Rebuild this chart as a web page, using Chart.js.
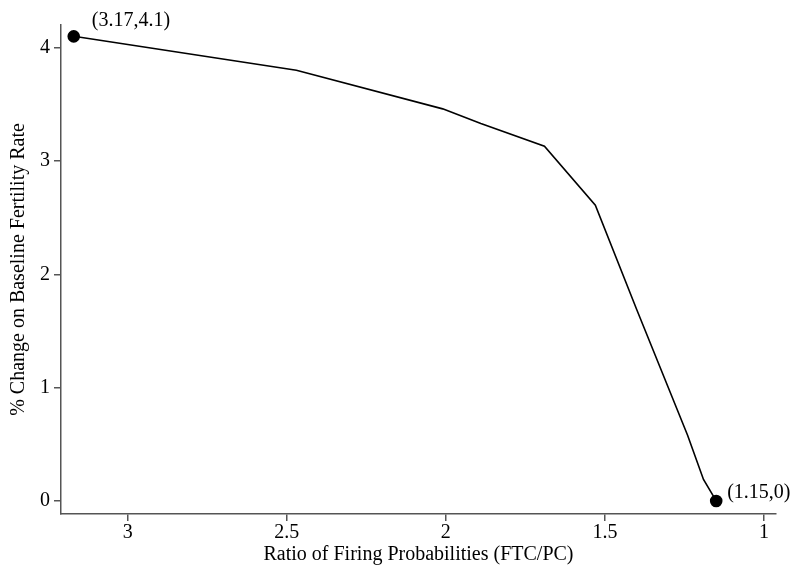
<!DOCTYPE html>
<html>
<head>
<meta charset="utf-8">
<script src="https://cdn.jsdelivr.net/npm/chart.js@4.4.0/dist/chart.umd.min.js"></script>
<style>
  html, body { margin: 0; padding: 0; background: #fff; }
  #wrap { width: 792px; height: 567px; }
</style>
</head>
<body>
<div id="wrap"><canvas id="myChart"></canvas></div>
<script>
"use strict";

// ratio of firing probabilities (FTC/PC) and % change on baseline fertility
const ratio = [3.17, 2.47, 2.01, 1.89, 1.69, 1.53, 1.40, 1.24, 1.19, 1.15];
const change = [4.1, 3.80, 3.46, 3.33, 3.13, 2.61, 1.69, 0.58, 0.19, 0];
const xTicks = [3, 2.5, 2, 1.5, 1];
const yTicks = [0, 1, 2, 3, 4];

const points = ratio.map((r, i) => ({ x: r, y: change[i] }));
const last = points.length - 1;
const serif = "'Liberation Serif', 'DejaVu Serif', serif";

// marker labels at both ends of the curve
const endLabels = {
    id: 'endLabels',
    afterDatasetsDraw(chart) {
        const ctx = chart.ctx;
        const meta = chart.getDatasetMeta(0);
        const spots = [
            { i: 0, dx: 18, dy: -16 },
            { i: last, dx: 11, dy: -8 }
        ];
        ctx.save();
        ctx.font = '20px ' + serif;
        ctx.fillStyle = '#000';
        ctx.textAlign = 'left';
        ctx.textBaseline = 'middle';
        spots.forEach(s => {
            const el = meta.data[s.i];
            ctx.fillText('(' + ratio[s.i] + ',' + change[s.i] + ')', el.x + s.dx, el.y + s.dy);
        });
        ctx.restore();
    }
};

var ctx = document.getElementById('myChart');
var chart = new Chart(ctx, {
    type: 'scatter',
    data: {
        datasets: [{
            data: points,
            showLine: true,
            borderColor: '#000',
            borderWidth: 1.6,
            backgroundColor: '#000',
            pointRadius: c => (c.dataIndex === 0 || c.dataIndex === last) ? 5.5 : 0,
            pointHoverRadius: 0,
            tension: 0
        }]
    },
    options: {
        responsive: true,
        maintainAspectRatio: false,
        animation: false,
        layout: { padding: { top: 25, right: 16, left: 0, bottom: 0 } },
        plugins: {
            legend: { display: false },
            tooltip: { enabled: false }
        },
        scales: {
            x: {
                type: 'linear',
                reverse: true,
                min: 0.962,
                max: 3.21,
                afterBuildTicks: s => { s.ticks = xTicks.map(v => ({ value: v })); },
                afterFit: s => { s.height = 53; },
                grid: { drawOnChartArea: false, tickLength: 7, color: '#555', lineWidth: 1.5 },
                border: { color: '#555', width: 1.5 },
                ticks: {
                    color: '#000',
                    font: { family: serif, size: 20 },
                    padding: 0,
                    maxRotation: 0,
                    callback: v => String(v)
                },
                title: {
                    display: true,
                    text: 'Ratio of Firing Probabilities (FTC/PC)',
                    color: '#000',
                    font: { family: serif, size: 20 },
                    padding: { top: -2, bottom: 0 }
                }
            },
            y: {
                min: -0.115,
                max: 4.2,
                afterBuildTicks: s => { s.ticks = yTicks.map(v => ({ value: v })); },
                afterFit: s => { s.width = 61; },
                grid: { drawOnChartArea: false, tickLength: 7, color: '#555', lineWidth: 1.5 },
                border: { color: '#555', width: 1.5 },
                ticks: {
                    color: '#000',
                    font: { family: serif, size: 20 },
                    padding: 4,
                    callback: v => String(v)
                },
                title: {
                    display: true,
                    text: '% Change on Baseline Fertility Rate',
                    color: '#000',
                    font: { family: serif, size: 20 },
                    padding: { top: 7, bottom: 0 }
                }
            }
        }
    },
    plugins: [endLabels]
});
</script>
</body>
</html>
